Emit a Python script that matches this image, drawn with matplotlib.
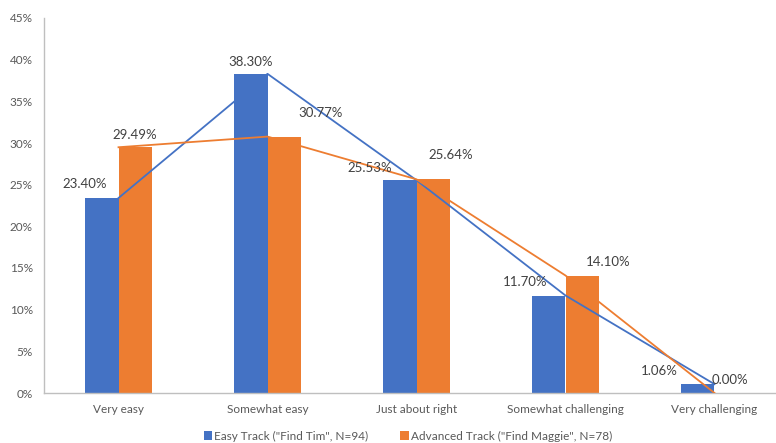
import matplotlib
matplotlib.use("Agg")
import matplotlib.pyplot as plt
import numpy as np

categories = ["Very easy", "Somewhat easy", "Just about right", "Somewhat challenging", "Very challenging"]
easy_vals = [23.40, 38.30, 25.53, 11.70, 1.06]
adv_vals = [29.49, 30.77, 25.64, 14.10, 0.00]
series_names = ['Easy Track ("Find Tim", N=94)', 'Advanced Track ("Find Maggie", N=78)']
yticks = [0, 5, 10, 15, 20, 25, 30, 35, 40, 45]

# label offsets in pixels (style only)
easy_off = [(-17, 14), (0, 12), (-30, 12), (-24, 13), (-39, 13)]
adv_off = [(0, 12), (37, 24), (18, 24), (26, 14), (-1, 13)]

BLUE = "#4472C4"
ORANGE = "#ED7D31"
TXT = "#404040"
plt.rcParams['font.family'] = ['Lato', 'DejaVu Sans']

fig = plt.figure(figsize=(7.76, 4.43), dpi=100)
ax = fig.add_axes([44/776, 50/443, 745/776, 375/443])

x = np.arange(len(categories))
w = 0.222
ax.bar(x - w/2, easy_vals, w, color=BLUE, label=series_names[0], zorder=2)
ax.bar(x + w/2, adv_vals, w, color=ORANGE, label=series_names[1], zorder=2)
ax.plot(x, easy_vals, color=BLUE, lw=1.3, zorder=3)
ax.plot(x, adv_vals, color=ORANGE, lw=1.3, zorder=3)

for i in range(len(categories)):
    ax.annotate(f"{easy_vals[i]:.2f}%", (x[i] - w/2, easy_vals[i]), xytext=easy_off[i],
                textcoords="offset pixels", ha="center", va="center", fontsize=9.5, color=TXT)
    ax.annotate(f"{adv_vals[i]:.2f}%", (x[i] + w/2, adv_vals[i]), xytext=adv_off[i],
                textcoords="offset pixels", ha="center", va="center", fontsize=9.5, color=TXT)

ax.set_xlim(-0.5, len(categories) - 0.5)
ax.set_ylim(0, 45)
ax.set_yticks(yticks)
ax.set_yticklabels([f"{t}%" for t in yticks])
ax.set_xticks(x)
ax.set_xticklabels(categories)
ax.tick_params(axis="both", length=0, labelsize=8.5, colors="#595959", pad=8)
for s in ["top", "right"]:
    ax.spines[s].set_visible(False)
for s in ["left", "bottom"]:
    ax.spines[s].set_color("#BFBFBF")
    ax.spines[s].set_linewidth(1)

fig.legend(loc="center", bbox_to_anchor=(408/776, 1 - 436/443), ncol=2, frameon=False,
           fontsize=8.5, handlelength=0.7, handleheight=0.7, handletextpad=0.2,
           columnspacing=2.7, labelcolor="#595959")

fig.savefig("out.png", dpi=100)
